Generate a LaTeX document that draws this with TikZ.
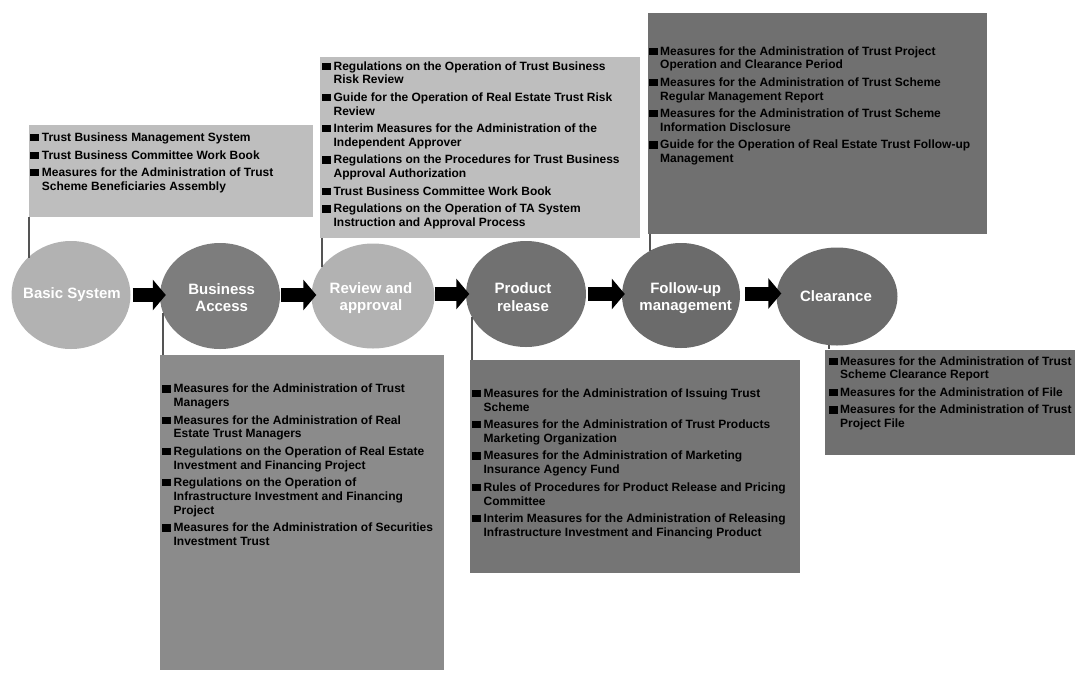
\documentclass[tikz,border=0pt]{standalone}
\usepackage{fontspec}
\setmainfont{Liberation Sans}
\usetikzlibrary{arrows.meta,shapes.geometric}

% panel and stage greys
\definecolor{panellight}{gray}{0.745}
\definecolor{panelmid}{gray}{0.545}
\definecolor{paneldim}{gray}{0.46}
\definecolor{paneldark}{gray}{0.44}
\definecolor{stagelight}{gray}{0.70}
\definecolor{stagemid}{gray}{0.49}
\definecolor{stagedark}{gray}{0.445}
\definecolor{stagedeep}{gray}{0.42}
\definecolor{leadgray}{gray}{0.33}

% square bullet used in the lists
\newcommand\blt{\rule[0.2pt]{9pt}{7.3pt}}
\newenvironment{rulelist}{\begin{tabular}[t]{@{}l@{\hspace{2.7pt}}l@{}}}{\end{tabular}}

\tikzset{
  panel/.style={rectangle, inner sep=0pt, anchor=north west, draw=none},
  stage/.style={ellipse, inner sep=0pt, draw=none},
  stagetext/.style={text=white, font=\bfseries\fontsize{15}{17.5}\selectfont, align=center, inner sep=0pt},
  listtext/.style={anchor=base west, inner sep=0pt, font=\bfseries\fontsize{12}{13.8}\selectfont, text=black},
  leader/.style={draw=leadgray, line width=2pt},
  flow/.style={draw=black, line width=14pt, -{Triangle[length=13pt,width=30pt]}}
}

\begin{document}
\begin{tikzpicture}[x=1pt,y=-1pt]
\useasboundingbox (0,0) rectangle (1077,673);

% ---------- rule panels ----------
\node[panel, fill=panellight, minimum width=284.7pt, minimum height=91.7pt] (b1) at (28.3,125) {};
\node[panel, fill=panellight, minimum width=320pt, minimum height=181.3pt] (b2) at (320,56.7) {};
\node[panel, fill=paneldark, minimum width=339.4pt, minimum height=221pt] (b3) at (647.3,12.3) {};
\node[panel, fill=panelmid, minimum width=283.3pt, minimum height=315pt] (b4) at (160,355) {};
\node[panel, fill=paneldim, minimum width=330pt, minimum height=212.7pt] (b5) at (470,360) {};
\node[panel, fill=paneldark, minimum width=250pt, minimum height=105.7pt] (b6) at (825,349.3) {};

% ---------- process stages ----------
\node[stage, fill=stagelight, minimum width=119pt, minimum height=108pt] (c1) at (71,295) {};
\node[stage, fill=stagemid,   minimum width=120pt, minimum height=106pt] (c2) at (220,296) {};
\node[stage, fill=stagelight, minimum width=123pt, minimum height=105pt] (c3) at (373,296) {};
\node[stage, fill=stagedark,  minimum width=120pt, minimum height=106pt] (c4) at (526,294) {};
\node[stage, fill=stagedeep,  minimum width=118pt, minimum height=105pt] (c5) at (681,295.5) {};
\node[stage, fill=stagedeep,  minimum width=121pt, minimum height=98pt]  (c6) at (837,296.5) {};

% ---------- leader lines from panels to stages ----------
\coordinate (k1) at (29,258);
\coordinate (k2) at (322,266.5);
\coordinate (k3) at (650,251);
\coordinate (k4) at (162.7,313);
\coordinate (k5) at (472,317);
\coordinate (k6) at (829,345);
\draw[leader] ([xshift=0.7pt]b1.south west) -- (k1);
\draw[leader] ([xshift=2pt]b2.south west) -- (k2);
\draw[leader] ([xshift=2.7pt]b3.south west) -- (k3);
\draw[leader] (k4) -- ([xshift=2.7pt]b4.north west);
\draw[leader] (k5) -- ([xshift=2pt]b5.north west);
\draw[leader] (k6) -- ([xshift=4pt]b6.north west);

% ---------- flow arrows ----------
\draw[flow] ([xshift=2pt]c1.east |- 0,295) -- ([xshift=6pt]c2.west |- 0,295);
\draw[flow] ([xshift=1pt]c2.east |- 0,295) -- ([xshift=5pt]c3.west |- 0,295);
\draw[flow] ([xshift=0pt]c3.east |- 0,294) -- ([xshift=3.5pt]c4.west |- 0,294);
\draw[flow] ([xshift=2pt]c4.east |- 0,294) -- ([xshift=3pt]c5.west |- 0,294);
\draw[flow] ([xshift=5pt]c5.east |- 0,293.5) -- ([xshift=5pt]c6.west |- 0,293.5);

% ---------- stage labels ----------
\node[stagetext] (c1t) at (72,295) {Basic System};
\node[stagetext] (c2t) at (221.7,297.5) {Business\\Access};
\node[stagetext] (c3t) at (371,298) {Review and\\approval};
\node[stagetext] (c4t) at (523,297) {Product\\release};
\node[stagetext] (c5t) at (685.7,298) {Follow-up\\management};
\node[stagetext] (c6t) at (836,296.5) {Clearance};

% ---------- rule lists ----------
\node[listtext] (t1) at (30,141.5) {\begin{rulelist}
\blt & Trust Business Management System\\[3.7pt]
\blt & Trust Business Committee Work Book\\[3.7pt]
\blt & Measures for the Administration of Trust\\
     & Scheme Beneficiaries Assembly
\end{rulelist}};

\node[listtext] (t2) at (321.7,70) {\begin{rulelist}
\blt & Regulations on the Operation of Trust Business\\
     & Risk Review\\[3.7pt]
\blt & Guide for the Operation of Real Estate Trust Risk\\
     & Review\\[3.7pt]
\blt & Interim Measures for the Administration of the\\
     & Independent Approver\\[3.7pt]
\blt & Regulations on the Procedures for Trust Business\\
     & Approval Authorization\\[3.7pt]
\blt & Trust Business Committee Work Book\\[3.7pt]
\blt & Regulations on the Operation of TA System\\
     & Instruction and Approval Process
\end{rulelist}};

\node[listtext] (t3) at (648.3,55) {\begin{rulelist}
\blt & Measures for the Administration of Trust Project\\
     & Operation and Clearance Period\\[3.7pt]
\blt & Measures for the Administration of Trust Scheme\\
     & Regular Management Report\\[3.7pt]
\blt & Measures for the Administration of Trust Scheme\\
     & Information Disclosure\\[3.7pt]
\blt & Guide for the Operation of Real Estate Trust Follow-up\\
     & Management
\end{rulelist}};

\node[listtext] (t4) at (161.7,392.7) {\begin{rulelist}
\blt & Measures for the Administration of Trust\\
     & Managers\\[3.7pt]
\blt & Measures for the Administration of Real\\
     & Estate Trust Managers\\[3.7pt]
\blt & Regulations on the Operation of Real Estate\\
     & Investment and Financing Project\\[3.7pt]
\blt & Regulations on the Operation of\\
     & Infrastructure Investment and Financing\\
     & Project\\[3.7pt]
\blt & Measures for the Administration of Securities\\
     & Investment Trust
\end{rulelist}};

\node[listtext] (t5) at (471.7,397.3) {\begin{rulelist}
\blt & Measures for the Administration of Issuing Trust\\
     & Scheme\\[3.7pt]
\blt & Measures for the Administration of Trust Products\\
     & Marketing Organization\\[3.7pt]
\blt & Measures for the Administration of Marketing\\
     & Insurance Agency Fund\\[3.7pt]
\blt & Rules of Procedures for Product Release and Pricing\\
     & Committee\\[3.7pt]
\blt & Interim Measures for the Administration of Releasing\\
     & Infrastructure Investment and Financing Product
\end{rulelist}};

\node[listtext] (t6) at (828.3,365) {\begin{rulelist}
\blt & Measures for the Administration of Trust\\
     & Scheme Clearance Report\\[3.7pt]
\blt & Measures for the Administration of File\\[3.7pt]
\blt & Measures for the Administration of Trust\\
     & Project File
\end{rulelist}};

\end{tikzpicture}
\end{document}
